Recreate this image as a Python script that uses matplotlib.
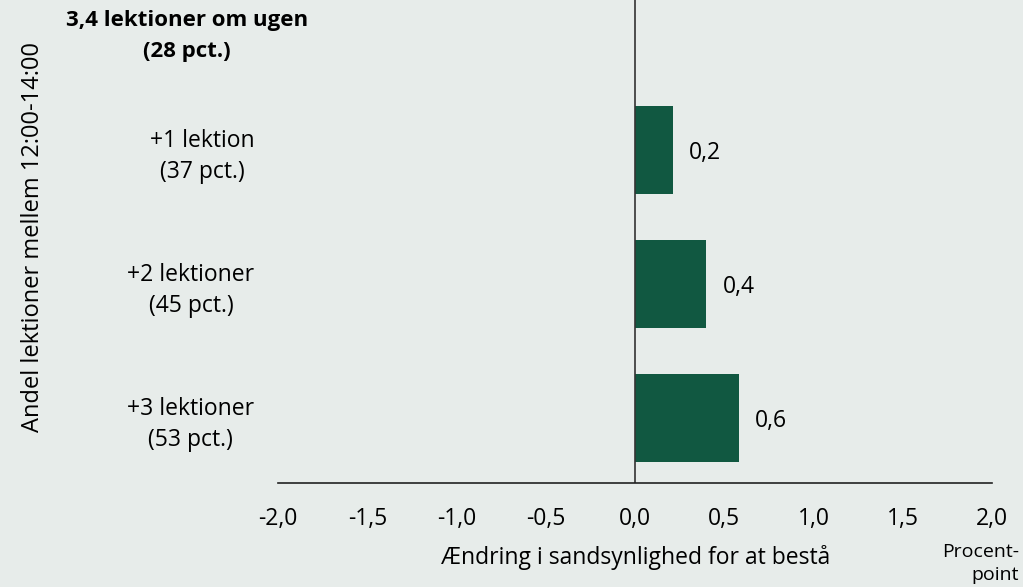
import matplotlib

matplotlib.use('Agg')
import matplotlib.pyplot as plt

plt.rcParams['font.family'] = ['Open Sans', 'DejaVu Sans']

# data
categories = ['+1 lektion\n(37 pct.)', '+2 lektioner\n(45 pct.)', '+3 lektioner\n(53 pct.)']
values = [0.21, 0.40, 0.58]
value_labels = ['0,2', '0,4', '0,6']
base_label = '3,4 lektioner om ugen\n(28 pct.)'
xticks = [-2.0, -1.5, -1.0, -0.5, 0.0, 0.5, 1.0, 1.5, 2.0]

bg = '#e7ecea'
green = '#115841'
fs = 16.5

fig = plt.figure(figsize=(10.23, 5.87), dpi=100, facecolor=bg)
ax = fig.add_axes([0.2718, 0.1772, 0.6979, 0.8228], facecolor=bg)

ypos = [2, 1, 0]
ax.barh(ypos, values, height=0.66, color=green)
for y, v, lab in zip(ypos, values, value_labels):
    ax.text(v + 0.09, y - 0.02, lab, va='center', ha='left', fontsize=fs)

ax.axvline(0, color='#333333', lw=1.2)
ax.set_xlim(-2, 2)
ax.set_ylim(-0.485, 3.12)
ax.set_xticks(xticks)
ax.set_xticklabels([f'{t:.1f}'.replace('.', ',') for t in xticks], fontsize=fs)
ax.set_yticks(ypos)
ax.set_yticklabels(categories, fontsize=fs, multialignment='center', linespacing=1.4)
ax.tick_params(length=0)
ax.tick_params(axis='x', pad=17)
ax.tick_params(axis='y', pad=17)

for s in ['top', 'right', 'left']:
    ax.spines[s].set_visible(False)
ax.spines['bottom'].set_color('#222222')
ax.spines['bottom'].set_linewidth(1.2)

# baseline category label (bold, no bar)
ax.text(-2.51, 2.85, base_label, ha='center', va='center', fontsize=16,
        fontweight='bold', multialignment='center', linespacing=1.6)

fig.text(0.621, 0.051, 'Ændring i sandsynlighed for at bestå', ha='center', va='center', fontsize=fs)
fig.text(0.996, 0.04, 'Procent-\npoint', ha='right', va='center', fontsize=14,
         multialignment='right', linespacing=1.4)
fig.text(0.032, 0.597, 'Andel lektioner mellem 12:00-14:00', rotation=90,
         ha='center', va='center', fontsize=17)

plt.savefig('out.png', facecolor=bg)
